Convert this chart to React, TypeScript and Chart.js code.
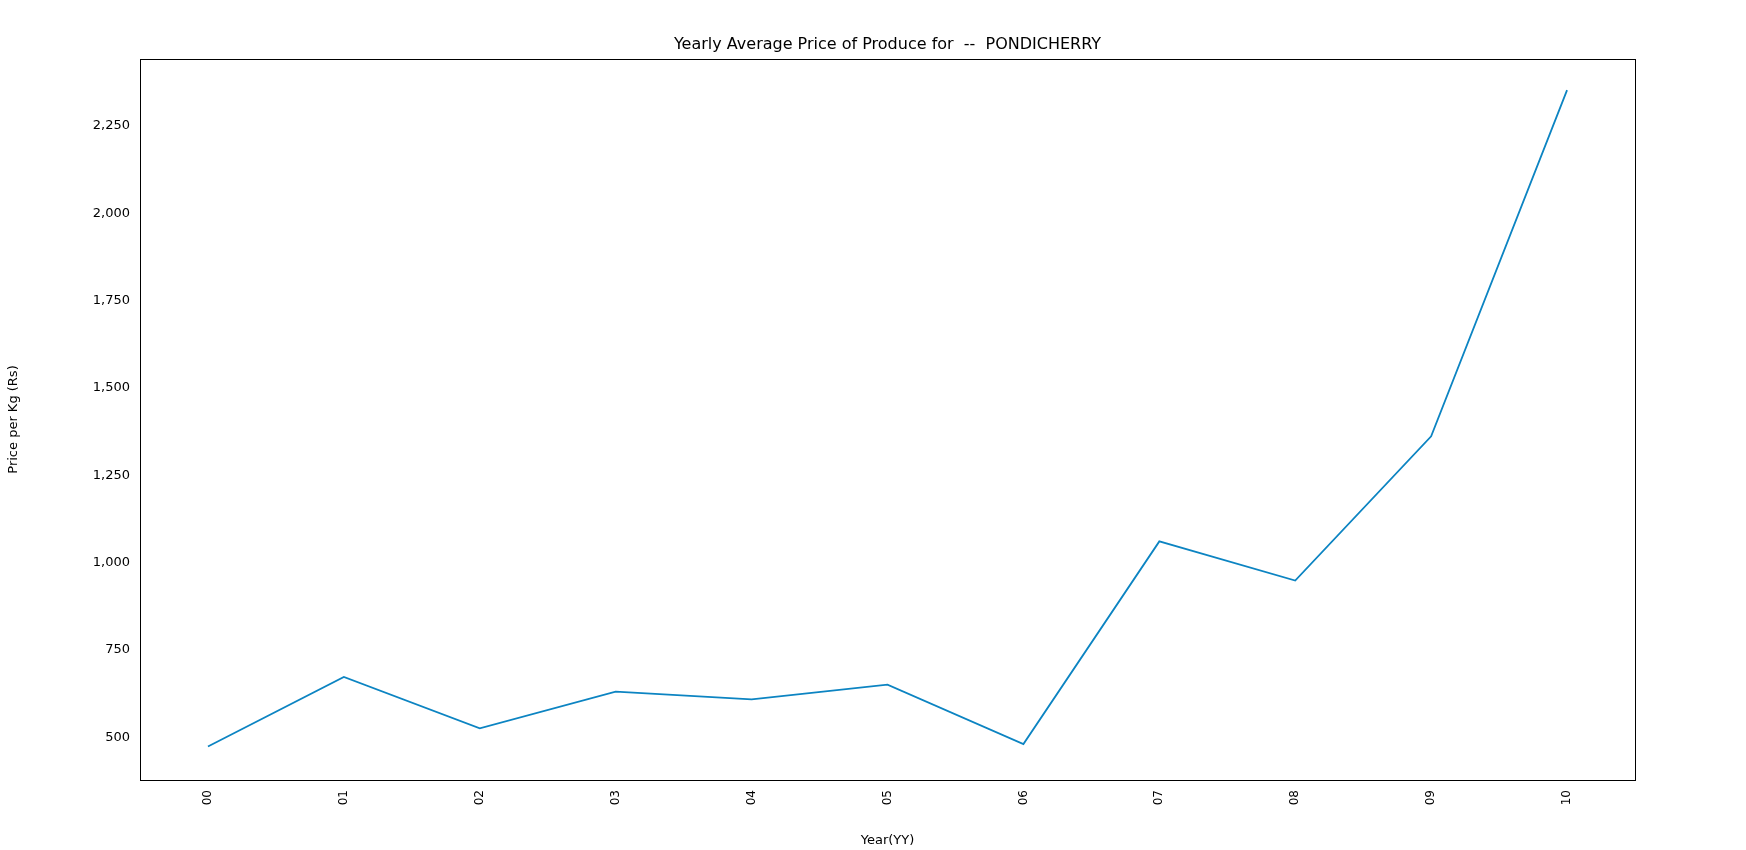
import React, { useEffect, useRef } from "react";
import { Chart, registerables } from "chart.js";
Chart.register(...registerables);

const categories = ["00","01","02","03","04","05","06","07","08","09","10"];
const prices = [474, 673, 526, 631, 609, 651, 481, 1061, 949, 1362, 2353];
const yTicks = [500, 750, 1000, 1250, 1500, 1750, 2000, 2250];

export default function App() {
  const ref = useRef<HTMLCanvasElement>(null);
  useEffect(() => {
    document.body.style.margin = "0";
    const font = "'DejaVu Sans', sans-serif";
    const titlePlugin = {
      id: "t",
      afterDraw(c: any) {
        const ctx = c.ctx;
        ctx.save();
        ctx.font = `16px ${font}`;
        ctx.fillStyle = "#000";
        ctx.textAlign = "center";
        ctx.textBaseline = "middle";
        ctx.fillText("Yearly Average Price of Produce for  --  PONDICHERRY", (c.chartArea.left + c.chartArea.right) / 2, 45);
        ctx.strokeStyle = "#000";
        ctx.lineWidth = 1;
        const a = c.chartArea;
        ctx.strokeRect(a.left + 0.5, a.top + 0.5, a.right - a.left, a.bottom - a.top);
        ctx.restore();
      },
    };
    const chart = new Chart(ref.current!, {
      type: "line",
      data: {
        datasets: [{
          data: prices.map((v, i) => ({ x: i, y: v })),
          borderColor: "#0c84c2",
          borderWidth: 1.8,
          pointRadius: 0,
          tension: 0,
        }],
      },
      options: {
        animation: false,
        responsive: false,
        layout: { padding: { top: 59, right: 111, left: 0, bottom: 0 } },
        plugins: { legend: { display: false }, tooltip: { enabled: false } },
        scales: {
          x: {
            type: "linear", min: -0.5, max: 10.5,
            afterBuildTicks: (s: any) => { s.ticks = categories.map((_, i) => ({ value: i })); },
            afterFit: (s: any) => { s.height = 70; },
            grid: { display: false, drawTicks: true, tickLength: 6, tickColor: "#000" },
            border: { display: false },
            ticks: { callback: (v: any) => categories[v] ?? "", maxRotation: 90, minRotation: 90, color: "#000", font: { family: font, size: 12 }, padding: 4, autoSkip: false },
            title: { display: true, text: "Year(YY)", color: "#000", font: { family: font, size: 13 }, padding: 2 },
          },
          y: {
            min: 378, max: 2442,
            afterBuildTicks: (s: any) => { s.ticks = yTicks.map(v => ({ value: v })); },
            afterFit: (s: any) => { s.width = 140; },
            grid: { display: false, drawTicks: true, tickLength: 6, tickColor: "#000" },
            border: { display: false },
            ticks: { color: "#000", font: { family: font, size: 13 }, padding: 4 },
            title: { display: true, text: "Price per Kg (Rs)", color: "#000", font: { family: font, size: 13 }, padding: 6 },
          },
        },
      },
      plugins: [titlePlugin],
    });
    return () => chart.destroy();
  }, []);
  return <canvas ref={ref} width={1746} height={850} style={{ display: "block" }} />;
}
